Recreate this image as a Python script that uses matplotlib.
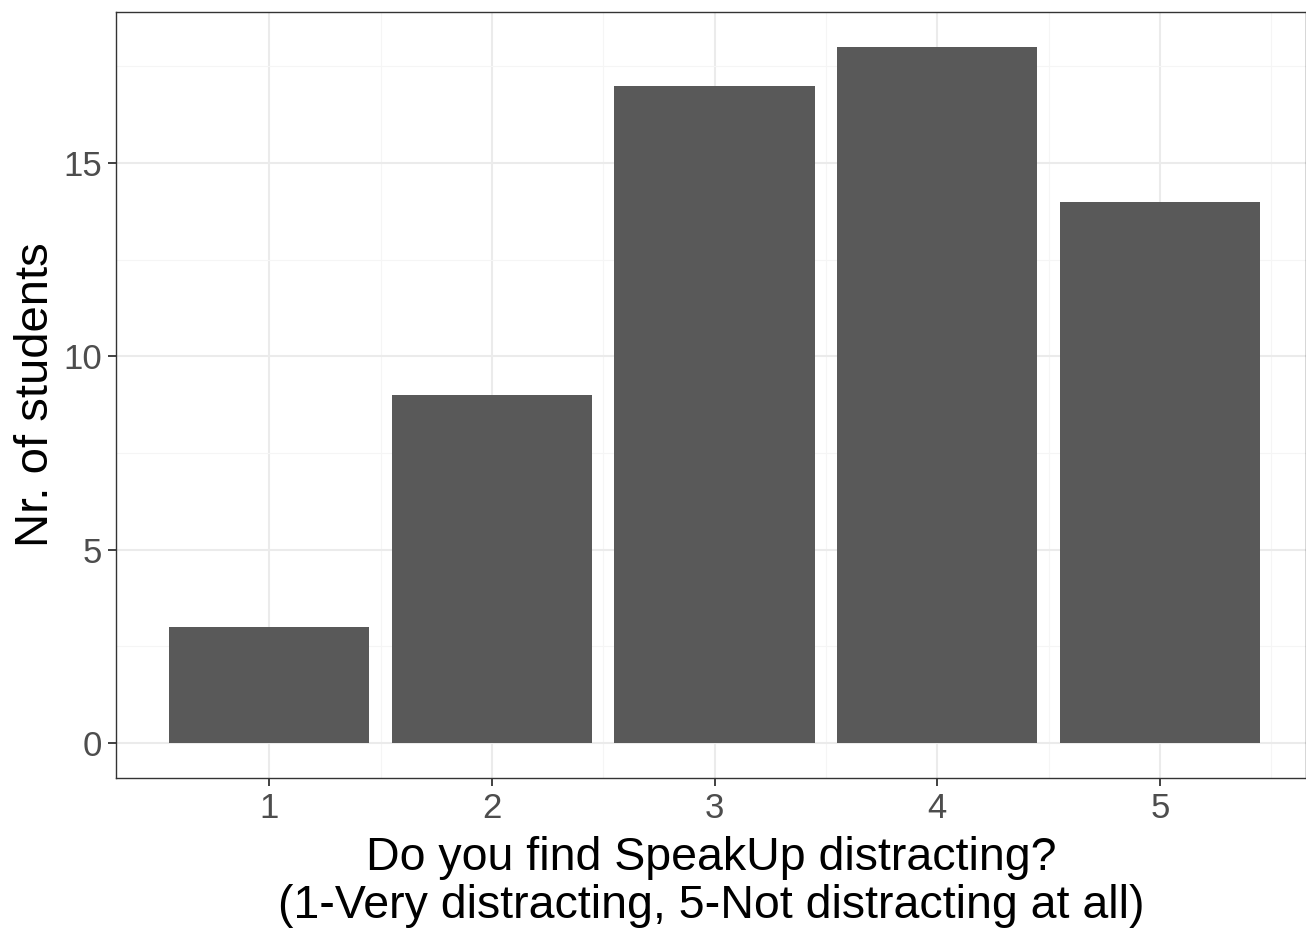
import matplotlib
matplotlib.use('Agg')
import matplotlib.pyplot as plt
import numpy as np

plt.rcParams['font.family'] = ['Liberation Sans', 'DejaVu Sans']

# survey answers
ratings = [1, 2, 3, 4, 5]
counts = [3, 9, 17, 18, 14]

fig = plt.figure(figsize=(13.06, 9.33), dpi=100)
ax = fig.add_axes([0.0888, 0.1661, 0.9112, 0.8210])

ax.bar(ratings, counts, width=0.9, color='#595959', zorder=3)

ax.set_xlim(0.312, 5.656)
ax.set_ylim(-0.9, 18.9)
ax.set_xticks(ratings)
ax.set_yticks([0, 5, 10, 15])
ax.set_xticks([1.5, 2.5, 3.5, 4.5, 5.5], minor=True)
ax.set_yticks([2.5, 7.5, 12.5, 17.5], minor=True)

ax.grid(True, which='major', color='#EBEBEB', linewidth=1.5, zorder=0)
ax.grid(True, which='minor', color='#F5F5F5', linewidth=0.8, zorder=0)
ax.set_axisbelow(True)

for s in ax.spines.values():
    s.set_color('#333333')
    s.set_linewidth(1.0)

ax.tick_params(which='major', length=6, width=1.3, color='#333333',
               labelsize=25, labelcolor='#4D4D4D', pad=4)
ax.tick_params(which='minor', length=0)

ax.set_xlabel('Do you find SpeakUp distracting?\n(1-Very distracting, 5-Not distracting at all)',
              fontsize=33.5, labelpad=8, linespacing=1.12)
ax.set_ylabel('Nr. of students', fontsize=34, labelpad=4)

fig.savefig('out.png', dpi=100)
